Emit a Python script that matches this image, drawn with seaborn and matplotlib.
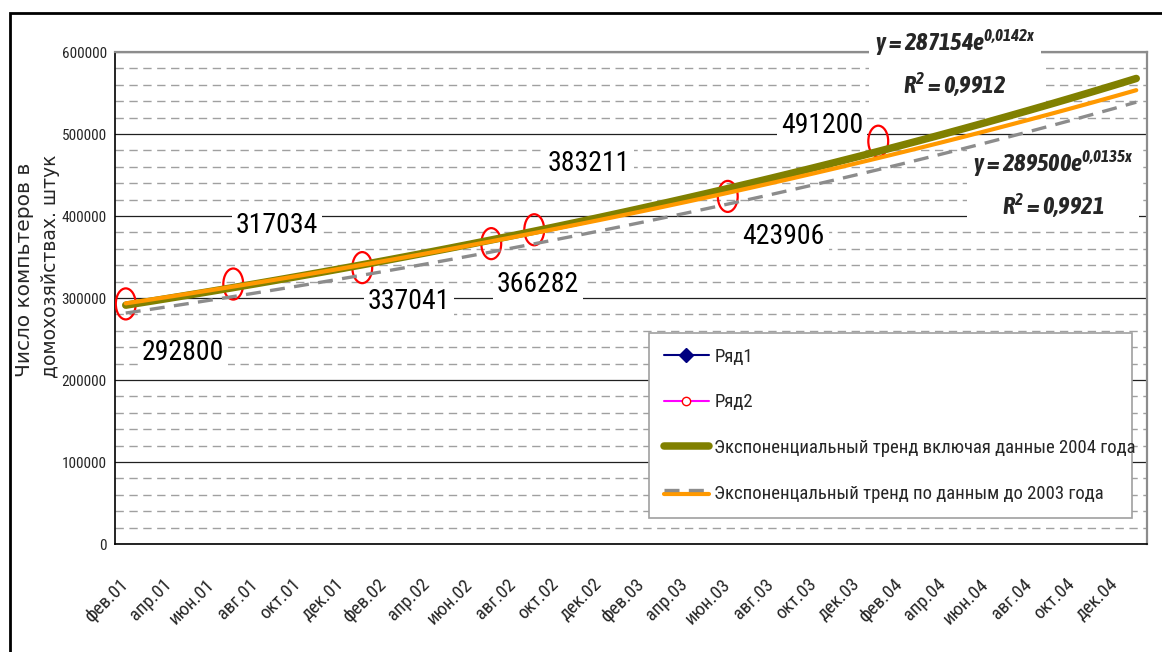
import numpy as np
import pandas as pd
import matplotlib
matplotlib.use("Agg")
import matplotlib.pyplot as plt
import seaborn as sns
from matplotlib.path import Path
from matplotlib.lines import Line2D
from matplotlib.legend_handler import HandlerLine2D, HandlerTuple
from matplotlib.patches import Rectangle
from matplotlib.ticker import MultipleLocator

# ---------------- data ----------------
n_months = 48  # фев.01 ... янв.05
tick_labels = ["фев.01", "апр.01", "июн.01", "авг.01", "окт.01", "дек.01",
               "фев.02", "апр.02", "июн.02", "авг.02", "окт.02", "дек.02",
               "фев.03", "апр.03", "июн.03", "авг.03", "окт.03", "дек.03",
               "фев.04", "апр.04", "июн.04", "авг.04", "окт.04", "дек.04"]
ryad2_month_idx = [0, 5, 11, 17, 19, 28, 35]
ryad2_values = [292800, 317034, 337041, 366282, 383211, 423906, 491200]
trend_all_coef = [287154, 0.0142]     # включая данные 2004 года
trend_2003_coef = [289500, 0.0135]    # по данным до 2003 года
trend_gray_coef = [277800, 0.0138]    # серый пунктир
eq_all = ["y = 287154e$^{0{,}0142x}$", "R$^{2}$ = 0,9912"]
eq_2003 = ["y = 289500e$^{0{,}0135x}$", "R$^{2}$ = 0,9921"]
legend_labels = ["Ряд1", "Ряд2",
                 "Экспоненциальный тренд включая данные 2004 года",
                 "Экспоненцальный тренд по данным до 2003 года"]
ylabel_lines = ["Число компьтеров в", "домохозяйствах. штук"]

# ---------------- style ----------------
sns.set_style("white")
NARROW = ["Roboto Condensed", "PT Sans Narrow", "Fira Sans Condensed",
          "Open Sans Condensed", "IBM Plex Sans Condensed", "Ubuntu Condensed",
          "Archivo Narrow", "DejaVu Sans"]
EQFONT = ["Asap Condensed", "DejaVu Sans"]
plt.rcParams["font.family"] = NARROW
plt.rcParams["mathtext.fontset"] = "custom"
for k in ("rm", "it", "bf"):
    plt.rcParams["mathtext." + k] = "Asap Condensed:italic:bold"

W, H = 1162, 652
fig = plt.figure(figsize=(W / 100, H / 100), dpi=100)
L, R, T, B = 115, 1147, 52, 544
ax = fig.add_axes([L / W, (H - B) / H, (R - L) / W, (B - T) / H])

# trend curves from the displayed equations
x_idx = np.arange(n_months)
x_eq = x_idx + 1
df = pd.DataFrame({
    "idx": x_idx,
    "all": trend_all_coef[0] * np.exp(trend_all_coef[1] * x_eq),
    "y2003": trend_2003_coef[0] * np.exp(trend_2003_coef[1] * x_eq),
    "gray": trend_gray_coef[0] * np.exp(trend_gray_coef[1] * x_eq),
})
pts = pd.DataFrame({"idx": ryad2_month_idx, "val": ryad2_values})

# ellipse marker
circ = Path.unit_circle()
ell = Path(circ.vertices * np.array([0.64, 1.0]), circ.codes)

sns.scatterplot(data=pts, x="idx", y="val", marker=ell, s=500, color="none",
                edgecolor="#FF0000", linewidth=1.6, ax=ax, zorder=3.5, legend=False)
sns.lineplot(data=df, x="idx", y="all", color="#808000", lw=5.4, ax=ax,
             zorder=5, solid_capstyle="round")
line_all = ax.lines[-1]
sns.lineplot(data=df, x="idx", y="gray", color="#8C8C8C", lw=2.4, ax=ax,
             zorder=5.5, linestyle="--")
line_gray = ax.lines[-1]
line_gray.set_dashes([4.5, 2.8])
sns.lineplot(data=df, x="idx", y="y2003", color="#FF9900", lw=3.0, ax=ax,
             zorder=6, solid_capstyle="round")
line_2003 = ax.lines[-1]

# axes
ax.set_xlim(-0.5, n_months - 0.5)
ax.set_ylim(0, 600000)
ax.set_xlabel("")
ax.set_ylabel("")
ax.set_yticks(np.arange(0, 600001, 100000))
ax.set_yticklabels([str(v) for v in range(0, 600001, 100000)], fontsize=11)
ax.yaxis.set_minor_locator(MultipleLocator(20000))
ax.set_xticks(np.arange(-0.5, n_months, 1))
ax.set_xticklabels([])
ax.set_xticks(np.arange(0, n_months - 1, 2), minor=True)
ax.set_xticklabels(tick_labels, minor=True, rotation=45, ha="right",
                   va="center", rotation_mode="anchor", fontsize=13.5)
ax.tick_params(axis="x", which="major", direction="out", length=5, width=1, color="black")
ax.tick_params(axis="x", which="minor", length=0, pad=27)
ax.tick_params(axis="y", which="major", direction="out", length=4, width=1,
               color="black", pad=2)
ax.tick_params(axis="y", which="minor", length=0)
ax.grid(False)
ax.yaxis.grid(True, which="major", color="#202020", lw=0.9, zorder=1)
ax.yaxis.grid(True, which="minor", color="#A0A0A0", lw=1.0, ls=(0, (6, 4)), zorder=1)
ax.set_axisbelow(True)
for s in ("left", "bottom"):
    ax.spines[s].set_color("black")
    ax.spines[s].set_linewidth(1.2)
for s in ("top", "right"):
    ax.spines[s].set_color("#8C8C8C")
    ax.spines[s].set_linewidth(1.6)

# data labels (white boxes over grid)
label_pos = [(0.066, 0.390), (0.157, 0.648), (0.285, 0.492), (0.410, 0.528),
             (0.459, 0.774), (0.648, 0.624), (0.685, 0.850)]
for v, (fx, fy) in zip(ryad2_values, label_pos):
    ax.text(fx, fy, str(v), transform=ax.transAxes, ha="center", va="center",
            fontsize=20, color="black", zorder=4,
            bbox=dict(facecolor="white", edgecolor="none", pad=3))

# equations
for lines, (fx, fy) in ((eq_all, (0.814, 0.976)), (eq_2003, (0.909, 0.730))):
    ax.text(fx, fy, "\n".join(lines), transform=ax.transAxes, ha="center",
            va="center", multialignment="center", fontsize=17.5,
            family=EQFONT, fontweight="bold", style="italic",
            linespacing=1.55, zorder=4, clip_on=False,
            bbox=dict(facecolor="white", edgecolor="none", pad=4))

# legend
h1 = Line2D([], [], color="#000080", marker="D", markersize=7, lw=1.5)
h2 = Line2D([], [], color="#FF00FF", marker="o", markerfacecolor="white",
            markeredgecolor="#FF0000", markersize=6, lw=1.5)
h3 = Line2D([], [], color="#808000", lw=5.4, solid_capstyle="round")
h4a = Line2D([], [], color="#FF9900", lw=3.0)
h4b = Line2D([], [], color="#8C8C8C", lw=2.4, dashes=[4.5, 2.8])


class OffsetLine(HandlerLine2D):
    def __init__(self, dy, **kw):
        super().__init__(**kw)
        self.dy = dy

    def create_artists(self, legend, orig_handle, xdescent, ydescent, width,
                       height, fontsize, trans):
        return super().create_artists(legend, orig_handle, xdescent,
                                      ydescent - self.dy, width, height,
                                      fontsize, trans)


leg = ax.legend([h1, h2, h3, (h4a, h4b)], legend_labels,
                handler_map={tuple: HandlerTuple(ndivide=1),
                             h4a: OffsetLine(-2.5), h4b: OffsetLine(3.5)},
                loc="upper left", bbox_to_anchor=(0.517, 0.059, 0.468, 0.370),
                mode="expand", borderaxespad=0, fontsize=13.5, labelspacing=1.47,
                handlelength=2.4, handletextpad=0.3, borderpad=0.8,
                frameon=True, fancybox=False, framealpha=1)
leg.get_frame().set_edgecolor("#A0A0A0")
leg.get_frame().set_linewidth(1.2)
leg.set_zorder(10)

# y label (two lines)
fig.text(25 / W, (H - 270) / H, ylabel_lines[0], rotation=90, ha="center",
         va="center", fontsize=14.5, family=["DejaVu Sans"])
fig.text(51 / W, (H - 266) / H, ylabel_lines[1], rotation=90, ha="center",
         va="center", fontsize=13.5, family=["DejaVu Sans"])

# outer frame
fig.add_artist(Rectangle((10 / W, -0.1), 1.2, (H - 13) / H + 0.1,
                         transform=fig.transFigure, fill=False,
                         edgecolor="black", lw=2.0))

fig.savefig("out.png", dpi=100)
